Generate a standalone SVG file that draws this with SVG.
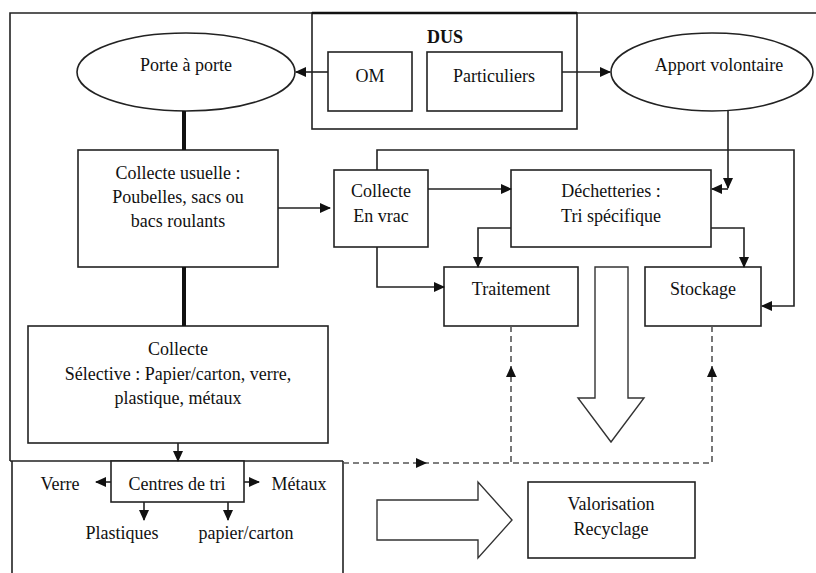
<svg xmlns="http://www.w3.org/2000/svg" width="816" height="573" viewBox="0 0 816 573">
<defs>
<marker id="ah" markerWidth="11" markerHeight="10" refX="10" refY="5" orient="auto" markerUnits="userSpaceOnUse">
<path d="M0,0 L11,5 L0,10 Z" fill="#111"/>
</marker>
<style>
.b{fill:#fff;stroke:#222;stroke-width:1.6}
.t{font-size:18px;fill:#111;text-anchor:middle}
.c{fill:none;stroke:#222;stroke-width:1.6}
.k{fill:none;stroke:#111;stroke-width:4}
.d{fill:none;stroke:#555;stroke-width:1.6;stroke-dasharray:6,4}
.h{fill:#fff;stroke:#333;stroke-width:1.4}
</style>
</defs>
<rect width="816" height="573" fill="#fff"/>
<g font-family="Liberation Serif, DejaVu Serif, serif">
<g id="frame">
<path class="c" d="M816,13 H10 V461"/>
</g>
<g id="dus">
<rect class="b" x="312" y="13" width="265" height="116"/>
<line x1="312" y1="13" x2="577" y2="13" stroke="#111" stroke-width="2.5"/>
<text class="t" x="445" y="43" font-weight="bold">DUS</text>
</g>
<g id="om">
<rect class="b" x="328" y="52" width="84" height="59"/>
<text class="t" x="370" y="82">OM</text>
</g>
<g id="particuliers">
<rect class="b" x="427" y="52" width="135" height="59"/>
<text class="t" x="494" y="82">Particuliers</text>
</g>
<g id="porte">
<ellipse class="b" cx="186" cy="72" rx="109" ry="39"/>
<text class="t" x="186" y="71">Porte à porte</text>
</g>
<g id="apport">
<ellipse class="b" cx="712" cy="72" rx="101" ry="39"/>
<text class="t" x="719" y="71">Apport volontaire</text>
</g>
<g id="usuelle">
<rect class="b" x="78" y="150" width="200" height="117"/>
<text class="t" x="178" y="179">Collecte usuelle :</text>
<text class="t" x="178" y="203">Poubelles, sacs ou</text>
<text class="t" x="178" y="227">bacs roulants</text>
</g>
<g id="selective">
<rect class="b" x="28" y="326" width="300" height="117"/>
<text class="t" x="178" y="355">Collecte</text>
<text class="t" x="178" y="380">Sélective : Papier/carton, verre,</text>
<text class="t" x="178" y="404">plastique, métaux</text>
</g>
<g id="vrac">
<rect class="b" x="334" y="170" width="94" height="77"/>
<text class="t" x="381" y="197">Collecte</text>
<text class="t" x="381" y="222">En vrac</text>
</g>
<g id="dechetteries">
<rect class="b" x="511" y="170" width="200" height="77"/>
<text class="t" x="611" y="197">Déchetteries :</text>
<text class="t" x="611" y="222">Tri spécifique</text>
</g>
<g id="traitement">
<rect class="b" x="444" y="267" width="134" height="59"/>
<text class="t" x="511" y="295">Traitement</text>
</g>
<g id="stockage">
<rect class="b" x="645" y="267" width="116" height="59"/>
<text class="t" x="703" y="295">Stockage</text>
</g>
<g id="tri-area">
<path class="c" d="M10,461 H343 M12,461 V573 M343,461 V573"/>
</g>
<g id="centres">
<rect class="b" x="111" y="461" width="133" height="41"/>
<text class="t" x="177" y="490">Centres de tri</text>
</g>
<g id="verre"><text class="t" x="60" y="490">Verre</text></g>
<g id="metaux"><text class="t" x="299" y="490">Métaux</text></g>
<g id="plastiques"><text class="t" x="122" y="539">Plastiques</text></g>
<g id="papier"><text class="t" x="246" y="539">papier/carton</text></g>
<g id="valorisation">
<rect class="b" x="528" y="482" width="167" height="76"/>
<text class="t" x="611" y="510">Valorisation</text>
<text class="t" x="611" y="535">Recyclage</text>
</g>
<g id="big-down">
<path class="h" d="M595,267 H628 V398 H644 L611,442 L578,398 H595 Z"/>
</g>
<g id="big-right">
<path class="h" d="M377,500 H478 V482 L512,520 L478,558 V540 H377 Z"/>
</g>
<g id="connectors">
<path class="k" d="M184,111 V150"/>
<path class="k" d="M184,267 V326"/>
<path class="c" d="M328,72 H296" marker-end="url(#ah)"/>
<path class="c" d="M562,72 H610" marker-end="url(#ah)"/>
<path class="c" d="M278,208 H330" marker-end="url(#ah)"/>
<path class="c" d="M428,189 H511" marker-end="url(#ah)"/>
<path class="c" d="M728,111 V188" marker-end="url(#ah)"/>
<path class="c" d="M728,189 H712" marker-end="url(#ah)"/>
<path class="c" d="M377,170 V150 H794 V306 H762" marker-end="url(#ah)"/>
<path class="c" d="M511,228 H478 V267" marker-end="url(#ah)"/>
<path class="c" d="M711,228 H744 V267" marker-end="url(#ah)"/>
<path class="c" d="M377,247 V287 H444" marker-end="url(#ah)"/>
<path class="c" d="M178,443 V461" marker-end="url(#ah)"/>
<path class="c" d="M111,482 H96" marker-end="url(#ah)"/>
<path class="c" d="M244,482 H259" marker-end="url(#ah)"/>
<path class="c" d="M144,502 V520" marker-end="url(#ah)"/>
<path class="c" d="M228,502 V520" marker-end="url(#ah)"/>
<path class="d" d="M343,463 H712 M511,326 V463 M712,326 V463"/>
<path d="M416,458 L427,463 L416,468 Z" fill="#111"/>
<path d="M506,377 L511,366 L516,377 Z" fill="#111"/>
<path d="M707,377 L712,366 L717,377 Z" fill="#111"/>
</g>
</g>
</svg>
